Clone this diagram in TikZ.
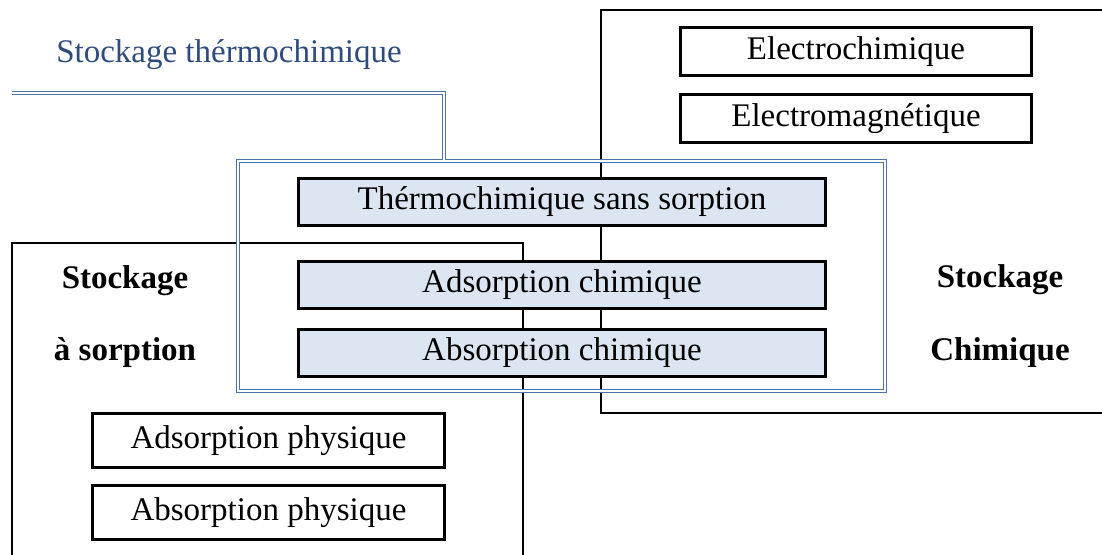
\documentclass[tikz,border=0pt]{standalone}
\usepackage{fontspec}
\setmainfont{Liberation Serif}
\usepackage{tikz}
\usetikzlibrary{positioning}
\definecolor{frameBlue}{HTML}{4F72A8}
\definecolor{titleBlue}{HTML}{2F4B7C}
\definecolor{boxFill}{HTML}{DCE6F2}
\tikzset{
  groupframe/.style={draw=black, line width=1.4pt},
  blueframe/.style={draw=frameBlue, line width=0.55pt, double=white,
    double distance=0.8pt},
  plainbox/.style={rectangle, draw=black, line width=1.4pt, fill=white,
    minimum width=175.6pt, minimum height=24pt, inner sep=0pt,
    font=\fontsize{16.5}{19}\selectfont},
  chembox/.style={plainbox, fill=boxFill, minimum width=263.6pt,
    minimum height=23.6pt},
  physbox/.style={plainbox, minimum width=176pt, minimum height=27pt},
  grouplabel/.style={anchor=base, font=\fontsize{16.5}{19}\selectfont\bfseries},
}
\begin{document}
\begin{tikzpicture}[x=0.5pt, y=-0.5pt]
    \useasboundingbox (0,0) rectangle (1102,554);
    \clip (0,0) rectangle (1102,554);
    % outer groups
    \draw[groupframe] (601,10) rectangle (1120,413);
    \draw[groupframe] (12,243) rectangle (523,580);
    \node[blueframe, rectangle, minimum width=323.5pt, minimum height=115pt,
      inner sep=0pt] (thermoframe) at (561.5,276) {};
    \node[anchor=base, text=titleBlue, font=\fontsize{16.5}{19}\selectfont]
      (title) at (229,62) {Stockage thérmochimique};
    \coordinate (lstart) at (12,93);
    \draw[blueframe] (lstart) -| ([xshift=-58.75pt]thermoframe.north);
    % boxes
    \node[plainbox] (electrochem) at (856,51.5) {Electrochimique};
    \node[plainbox, below=8pt of electrochem] (electromag) {Electromagnétique};
    \node[chembox] (sanssorp) at (562,202) {Thérmochimique sans sorption};
    \node[chembox, below=16.5pt of sanssorp] (adschem) {Adsorption chimique};
    \node[chembox, below=9pt of adschem] (abschem) {Absorption chimique};
    \node[physbox] (adsphys) at (268.5,440.5) {Adsorption physique};
    \node[physbox, below=7.5pt of adsphys] (absphys) {Absorption physique};
    % group labels
    \node[grouplabel] (sorpA) at (125,288) {Stockage};
    \node[grouplabel] (sorpB) at (125,360) {à sorption};
    \node[grouplabel] (chemA) at (1000,287) {Stockage};
    \node[grouplabel] (chemB) at (1000,360) {Chimique};
  \end{tikzpicture}
\end{document}
